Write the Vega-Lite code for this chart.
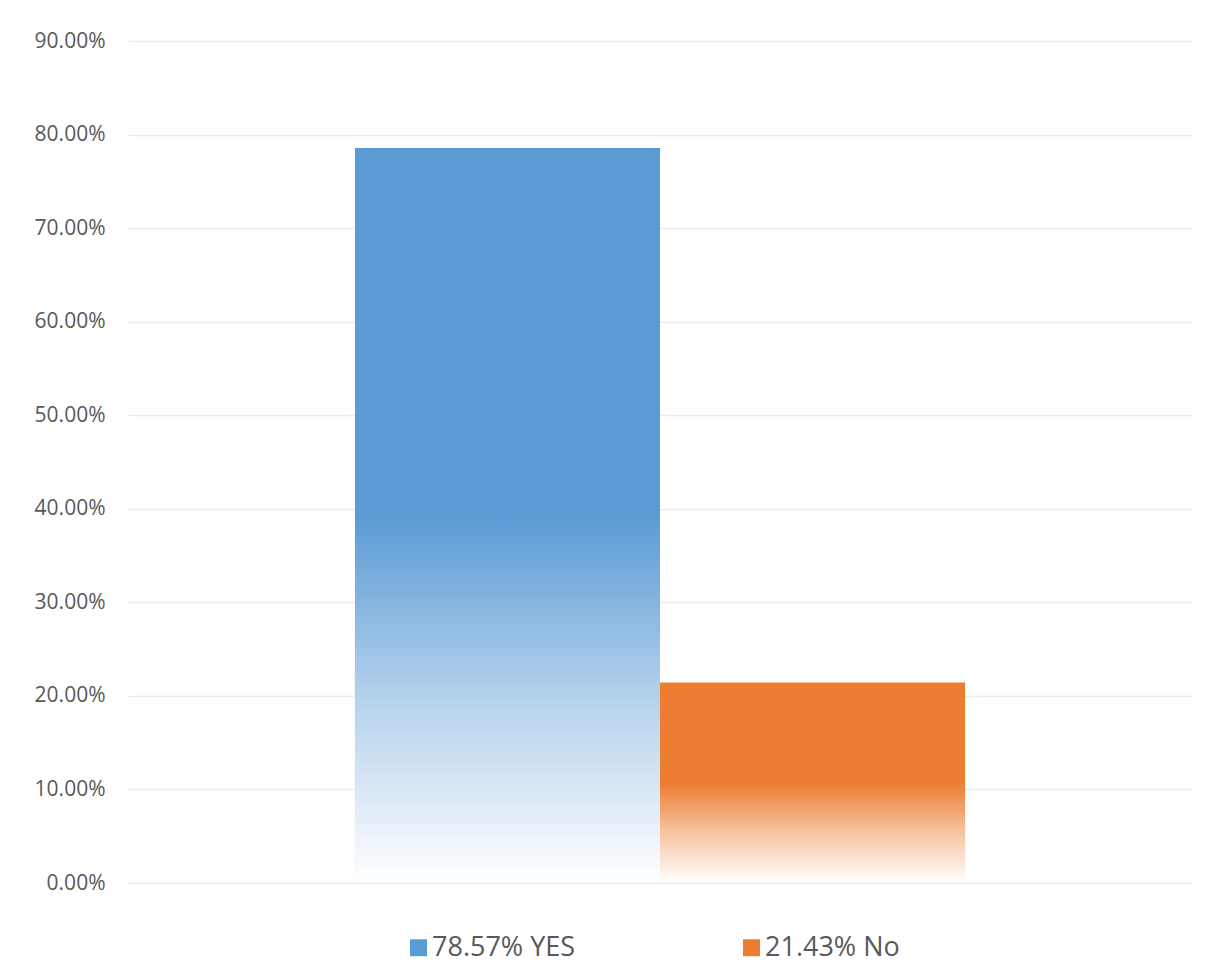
{
  "$schema": "https://vega.github.io/schema/vega-lite/v6.json",
  "width": 1064,
  "height": 842,
  "autosize": "none",
  "padding": {"left": 128, "top": 41, "right": 31, "bottom": 95},
  "background": "white",
  "config": {
    "view": {"stroke": null},
    "font": "Open Sans"
  },
  "data": {
    "values": [
      {"series": "78.57% YES", "value": 0.7857},
      {"series": "21.43% No", "value": 0.2143}
    ]
  },
  "encoding": {
    "x": {
      "field": "series",
      "type": "nominal",
      "sort": null,
      "scale": {"paddingInner": 0, "paddingOuter": 0.744},
      "axis": null
    },
    "y": {
      "field": "value",
      "type": "quantitative",
      "scale": {"domain": [0, 0.9], "nice": false},
      "axis": {
        "title": null,
        "format": ".2%",
        "values": [0, 0.1, 0.2, 0.3, 0.4, 0.5, 0.6, 0.7, 0.8, 0.9],
        "domain": false,
        "ticks": false,
        "labelPadding": 23,
        "labelFontSize": 21,
        "labelColor": "#595959",
        "labelFont": "Open Sans",
        "gridColor": "#ececec",
        "gridWidth": 1.4
      }
    }
  },
  "layer": [
    {
      "mark": {"type": "bar"},
      "encoding": {
        "color": {
          "field": "series",
          "type": "nominal",
          "sort": null,
          "scale": {"domain": ["78.57% YES", "21.43% No"], "range": ["#5b9bd5", "#ed7d31"]},
          "legend": {
            "title": null,
            "orient": "none",
            "direction": "horizontal",
            "legendX": 277,
            "legendY": 893,
            "symbolType": "square",
            "symbolSize": 289,
            "symbolStrokeWidth": 0,
            "labelFontSize": 27,
            "labelColor": "#595959",
            "labelFont": "Open Sans",
            "labelOffset": 0,
            "columnPadding": 162,
            "labelLimit": 400
          }
        }
      }
    },
    {
      "mark": {
        "type": "bar",
        "fill": {
          "gradient": "linear",
          "x1": 0, "y1": 0, "x2": 0, "y2": 1,
          "stops": [
            {"offset": 0, "color": "rgba(255,255,255,0)"},
            {"offset": 0.5, "color": "rgba(255,255,255,0)"},
            {"offset": 0.75, "color": "rgba(255,255,255,0.55)"},
            {"offset": 1, "color": "rgba(255,255,255,1)"}
          ]
        }
      },
      "encoding": {}
    }
  ]
}
